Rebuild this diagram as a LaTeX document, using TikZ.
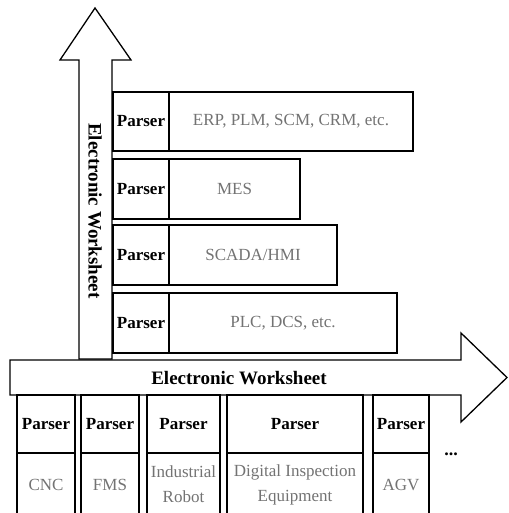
\documentclass[tikz,border=0pt]{standalone}
\usepackage{fontspec}
\setmainfont{Liberation Serif}
\usepackage{tikz}

\tikzset{
  cell/.style={draw, line width=1.3pt, fill=white, inner sep=0pt, align=center,
    font=\fontsize{17}{25}\selectfont},
  parsercell/.style={cell, font=\fontsize{17}{25}\selectfont\bfseries},
  appcell/.style={cell, text=black!55},
  bigarrow/.style={draw, line width=1.3pt, fill=white, line join=miter}
}

\begin{document}
\begin{tikzpicture}[x=1pt, y=-1pt]
\useasboundingbox (0,0) rectangle (508,513);

%% vertical arrow
\draw[bigarrow] (79,359) -- (79,60) -- (60,60) -- (95,8) -- (131,60) -- (112,60) -- (112,359) -- cycle;
\node[rotate=-90, font=\fontsize{19}{22}\selectfont\bfseries] (vlabel) at (95,211) {Electronic Worksheet};

%% upper levels
\node[parsercell, minimum width=56pt, minimum height=59pt] (p1) at (141,121.5) {Parser};
\node[appcell, minimum width=244pt, minimum height=59pt] (erp) at (291,121.5) {ERP, PLM, SCM, CRM, etc.};
\node[parsercell, minimum width=56pt, minimum height=60pt] (p2) at (141,189) {Parser};
\node[appcell, minimum width=131pt, minimum height=60pt] (mes) at (234.5,189) {MES};
\node[parsercell, minimum width=56pt, minimum height=60pt] (p3) at (141,255) {Parser};
\node[appcell, minimum width=168pt, minimum height=60pt] (scada) at (253,255) {SCADA/HMI};
\node[parsercell, minimum width=56pt, minimum height=60pt] (p4) at (141,323) {Parser};
\node[appcell, minimum width=228pt, minimum height=60pt] (plc) at (283,323) {PLC, DCS, etc.};

%% horizontal arrow
\draw[bigarrow] (10,360) -- (461,360) -- (461,333) -- (507,377.5) -- (461,422) -- (461,395) -- (10,395) -- cycle;
\node[font=\fontsize{19}{22}\selectfont\bfseries] (hlabel) at (239,378) {Electronic Worksheet};

%% shop floor
\node[parsercell, minimum width=58pt, minimum height=58pt] (q1) at (46,424) {Parser};
\node[appcell, minimum width=58pt, minimum height=63pt] (cnc) at (46,484.5) {CNC};
\node[parsercell, minimum width=58pt, minimum height=58pt] (q2) at (110,424) {Parser};
\node[appcell, minimum width=58pt, minimum height=63pt] (fms) at (110,484.5) {FMS};
\node[parsercell, minimum width=73pt, minimum height=58pt] (q3) at (183.5,424) {Parser};
\node[appcell, minimum width=73pt, minimum height=63pt] (robot) at (183.5,484.5) {Industrial\\Robot};
\node[parsercell, minimum width=136pt, minimum height=58pt] (q4) at (295,424) {Parser};
\node[appcell, minimum width=136pt, minimum height=63pt] (die) at (295,484.5) {Digital Inspection\\Equipment};
\node[parsercell, minimum width=56pt, minimum height=58pt] (q5) at (401,424) {Parser};
\node[appcell, minimum width=56pt, minimum height=63pt] (agv) at (401,484.5) {AGV};
\node[font=\fontsize{18}{20}\selectfont\bfseries] (more) at (451,454) {...};

\end{tikzpicture}
\end{document}
